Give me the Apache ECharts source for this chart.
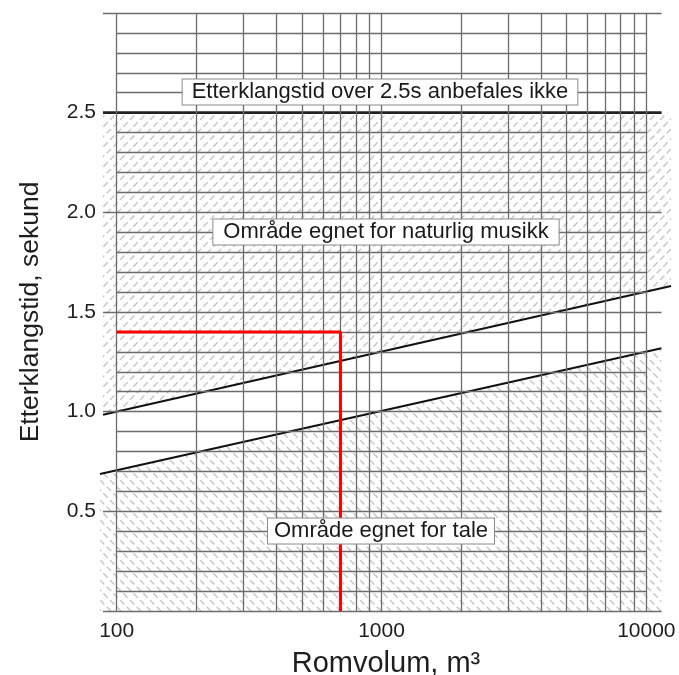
<!DOCTYPE html>
<html><head><meta charset="utf-8">
<script src="https://cdn.jsdelivr.net/npm/echarts@6/dist/echarts.min.js"></script>
<style>html,body{margin:0;padding:0;background:#fff}#c{width:679px;height:675px}</style>
</head><body><div id="c"></div>
<script>
// ---- data ----
const xTickLabels = [100, 1000, 10000];
const yTickLabels = [0.5, 1.0, 1.5, 2.0, 2.5];
const xGridValues = [100,200,300,400,500,600,700,800,900,1000,2000,3000,4000,5000,6000,7000,8000,9000,10000];
const yMinorGrid = [0.1,0.2,0.3,0.4,0.6,0.7,0.8,0.9,1.1,1.2,1.3,1.4,1.6,1.7,1.8,1.9,2.1,2.2,2.3,2.4,2.6,2.7,2.8,2.9];
const yMajorGrid = [0,0.5,1.0,1.5,2.0,3.0];
const limitLine = [[88.8,2.5],[11420,2.5]];
const upperLine = [[88.8,0.985],[12400,1.63]];
const lowerLine = [[86.5,0.687],[11400,1.318]];
const musicArea = [[88.8,0.985],[12400,1.63],[12400,2.5],[88.8,2.5]];
const taleArea = [[86.5,0],[11400,0],[11400,1.318],[86.5,0.687]];
const redPath = [[100,1.4],[700,1.4],[700,0]];
const minorXRange = [100, 10000];
const majorXRange = [88.8, 11420];
const labels = ['Etterklangstid over 2.5s anbefales ikke','Område egnet for naturlig musikk','Område egnet for tale'];

function hatch(dir){
  const c = document.createElement('canvas'); c.width = 20; c.height = 20;
  const g = c.getContext('2d');
  g.strokeStyle = '#c6c6c6'; g.lineWidth = 1.4;
  const per = Math.sqrt(800) / 3;
  g.setLineDash([6.2, per - 6.2]);
  for (let off = -20; off <= 20; off += 10) {
    g.beginPath();
    if (dir > 0) { g.moveTo(off, 20); g.lineTo(off + 20, 0); }
    else { g.moveTo(off, 0); g.lineTo(off + 20, 20); }
    g.stroke();
  }
  return c;
}
const patUp = hatch(1), patDown = hatch(-1);

function areaSeries(pts, pat){
  return {
    type: 'custom', z: 1, silent: true, data: [0],
    renderItem: function(params, api){
      return { type: 'polygon', shape: { points: pts.map(p => api.coord(p)) },
               style: { fill: { image: pat, repeat: 'repeat' }, stroke: null } };
    }
  };
}

const gridLines = [];
xGridValues.forEach(v => gridLines.push([{coord:[v,0]},{coord:[v,3]}]));
yMinorGrid.forEach(v => gridLines.push([{coord:[minorXRange[0],v]},{coord:[minorXRange[1],v]}]));
yMajorGrid.forEach(v => gridLines.push([{coord:[majorXRange[0],v]},{coord:[majorXRange[1],v]}]));

function plainLine(data, color, width, z){
  return { type: 'line', data: data, z: z, zlevel: 0, color: color, showSymbol: false, symbol: 'none',
    silent: true, clip: false, itemStyle: { color: color }, lineStyle: { color: color, width: width, opacity: 1 },
    emphasis: { disabled: true } };
}

const font = '"Liberation Sans", Arial, Helvetica, sans-serif';
const chart = echarts.init(document.getElementById('c'), null, {renderer:'canvas'});
chart.setOption({
  animation: false,
  backgroundColor: '#fff',
  grid: { left: 100, right: 7, top: 13, bottom: 64, containLabel: false, outerBoundsMode: 'none' },
  xAxis: {
    type: 'log', logBase: 10, min: 86.5, max: 12500,
    axisLine: { show: false }, axisTick: { show: false }, splitLine: { show: false },
    axisLabel: {
      showMinLabel: false, showMaxLabel: false, margin: 10,
      fontSize: 21, color: '#1e1e1e', fontFamily: font,
      formatter: v => { const r = Math.round(v); return xTickLabels.includes(r) ? String(r) : ''; }
    },
    name: 'Romvolum, m³', nameLocation: 'middle', nameGap: 38,
    nameTextStyle: { fontSize: 29, color: '#1e1e1e', fontFamily: font }
  },
  yAxis: {
    type: 'value', min: 0, max: 3, interval: 0.5,
    axisLine: { show: false }, axisTick: { show: false }, splitLine: { show: false },
    axisLabel: {
      margin: 4, fontSize: 21, color: '#1e1e1e', fontFamily: font,
      formatter: v => yTickLabels.some(t => Math.abs(t - v) < 1e-6) ? v.toFixed(1) : ''
    },
    name: 'Etterklangstid, sekund', nameLocation: 'middle', nameGap: 56,
    nameTextStyle: { fontSize: 26.5, color: '#1e1e1e', fontFamily: font }
  },
  series: [
    areaSeries(musicArea, patUp),
    areaSeries(taleArea, patDown),
    {
      type: 'line', data: [], z: 2, silent: true,
      markLine: { silent: true, symbol: 'none', animation: false, label: { show: false },
        lineStyle: { color: '#6c6c6c', width: 1.3, type: 'solid' }, data: gridLines }
    },
    plainLine(limitLine, '#222222', 2.6, 3),
    plainLine(upperLine, '#111111', 2, 3),
    plainLine(lowerLine, '#111111', 2, 3),
    plainLine(redPath, '#ff0000', 3, 5)
  ],
  graphic: [
    { type: 'text', x: 380, y: 92, z: 100, style: { text: labels[0], font: '22px ' + font, fill: '#1a1a1a',
      align: 'center', verticalAlign: 'middle', backgroundColor: '#fff', borderColor: '#8a8a8a', borderWidth: 1, padding: [2, 9, 1, 9] } },
    { type: 'text', x: 386, y: 232, z: 100, style: { text: labels[1], font: '22px ' + font, fill: '#1a1a1a',
      align: 'center', verticalAlign: 'middle', backgroundColor: '#fff', borderColor: '#8a8a8a', borderWidth: 1, padding: [2, 10, 1, 10] } },
    { type: 'text', x: 381, y: 531, z: 100, style: { text: labels[2], font: '22px ' + font, fill: '#1a1a1a',
      align: 'center', verticalAlign: 'middle', backgroundColor: '#fff', borderColor: '#8a8a8a', borderWidth: 1, padding: [2, 6, 1, 6] } }
  ]
});
</script></body></html>
